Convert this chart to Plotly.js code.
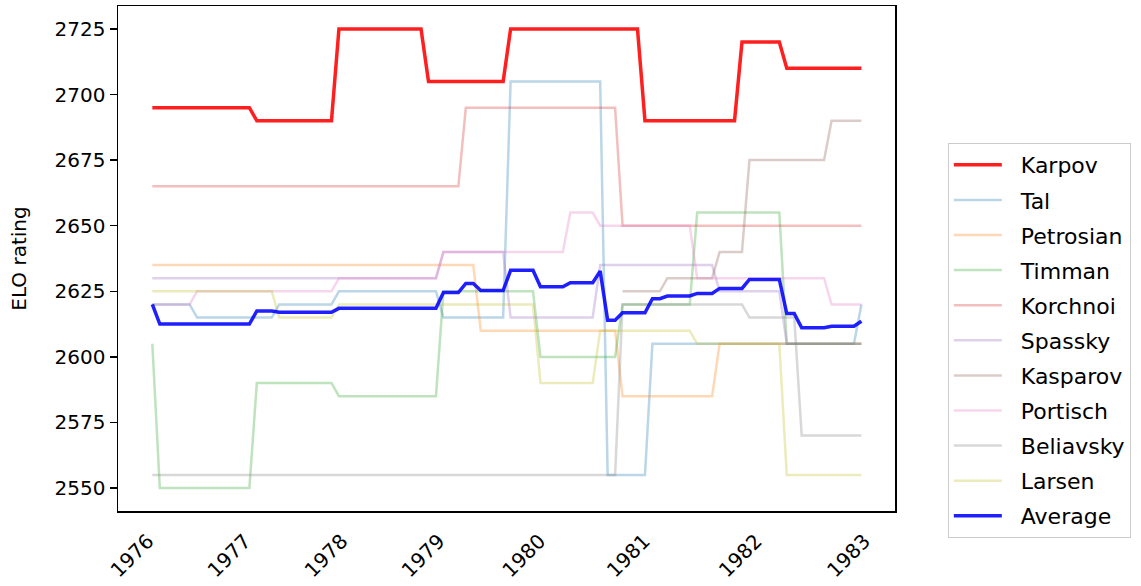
<!DOCTYPE html>
<html>
<head>
<meta charset="utf-8">
<script src="https://cdn.plot.ly/plotly-3.0.1.min.js"></script>
<style>html,body{margin:0;padding:0;background:#fff;}#chart{width:1141px;height:586px;}</style>
</head>
<body>
<div id="chart"></div>
<script>
// Rating list sequence (one value per list, 96 lists from 1976 to 1983)
const yearLabels = ['1976','1977','1978','1979','1980','1981','1982','1983'];
const yearTickPos = [-0.6, 12.4, 25.4, 38.4, 51.9, 65.9, 80.9, 95.4];

const karpov = [
2695,2695,2695,2695,2695,2695,2695,2695,2695,2695,2695,2695,2695,2695,
2690,2690,2690,2690,2690,2690,2690,2690,2690,2690,2690,
2725,2725,2725,2725,2725,2725,2725,2725,2725,2725,2725,2725,
2705,2705,2705,2705,2705,2705,2705,2705,2705,2705,2705,
2725,2725,2725,2725,2725,2725,2725,2725,2725,2725,2725,2725,2725,2725,2725,2725,2725,2725,
2690,2690,2690,2690,2690,2690,2690,2690,2690,2690,2690,2690,2690,
2720,2720,2720,2720,2720,2720,
2710,2710,2710,2710,2710,2710,2710,2710,2710,2710,2710];

const tal = [
2620,2620,2620,2620,2620,2620,
2615,2615,2615,2615,2615,2615,2615,2615,2615,2615,2615,
2620,2620,2620,2620,2620,2620,2620,2620,
2625,2625,2625,2625,2625,2625,2625,2625,2625,2625,2625,2625,2625,2625,
2615,2615,2615,2615,2615,2615,2615,2615,2615,
2705,2705,2705,2705,2705,2705,2705,2705,2705,2705,2705,2705,2705,
2555,2555,2555,2555,2555,2555,
2605,2605,2605,2605,2605,2605,2605,2605,2605,2605,2605,2605,2605,2605,2605,2605,2605,2605,2605,2605,2605,2605,2605,2605,2605,2605,2605,2605,
2620];

const petrosian = [
2635,2635,2635,2635,2635,2635,2635,2635,2635,2635,2635,2635,2635,2635,2635,2635,2635,2635,2635,2635,2635,2635,
2635,2635,2635,2635,2635,2635,2635,2635,2635,2635,2635,2635,2635,2635,2635,2635,2635,2635,2635,2635,2635,2635,
2610,2610,2610,2610,2610,2610,2610,2610,2610,2610,2610,2610,2610,2610,2610,2610,2610,2610,2610,
2585,2585,2585,2585,2585,2585,2585,2585,2585,2585,2585,2585,2585,
2605,2605,2605,2605,2605,2605,2605,2605,2605,2605,2605,2605,2605,2605,2605,2605,2605,2605,2605,2605];

const timman = [
2605,
2550,2550,2550,2550,2550,2550,2550,2550,2550,2550,2550,2550,2550,
2590,2590,2590,2590,2590,2590,2590,2590,2590,2590,2590,
2585,2585,2585,2585,2585,2585,2585,2585,2585,2585,2585,2585,2585,2585,
2625,2625,2625,2625,2625,2625,2625,2625,2625,2625,2625,2625,2625,
2600,2600,2600,2600,2600,2600,2600,2600,2600,2600,2600,
2620,2620,2620,2620,2620,2620,2620,2620,2620,2620,
2655,2655,2655,2655,2655,2655,2655,2655,2655,2655,2655,2655,
2605,2605,2605,2605,2605,2605,2605,2605,2605,2605,2605];

const korchnoi = [
2665,2665,2665,2665,2665,2665,2665,2665,2665,2665,2665,2665,2665,2665,2665,2665,2665,2665,2665,2665,2665,
2665,2665,2665,2665,2665,2665,2665,2665,2665,2665,2665,2665,2665,2665,2665,2665,2665,2665,2665,2665,2665,
2695,2695,2695,2695,2695,2695,2695,2695,2695,2695,2695,2695,2695,2695,2695,2695,2695,2695,2695,2695,2695,
2650,2650,2650,2650,2650,2650,2650,2650,2650,2650,2650,2650,2650,2650,2650,2650,2650,
2650,2650,2650,2650,2650,2650,2650,2650,2650,2650,2650,2650,2650,2650,2650,2650];

const spassky = [
2630,2630,2630,2630,2630,2630,2630,2630,2630,2630,2630,2630,2630,2630,2630,2630,2630,2630,2630,2630,
2630,2630,2630,2630,2630,2630,2630,2630,2630,2630,2630,2630,2630,2630,2630,2630,2630,2630,2630,
2640,2640,2640,2640,2640,2640,2640,2640,2640,
2615,2615,2615,2615,2615,2615,2615,2615,2615,2615,2615,2615,
2635,2635,2635,2635,2635,2635,2635,2635,2635,2635,2635,2635,2635,2635,2635,2635,
2625,2625,2625,2625,2625,2625,2625,2625,2625,
2605,2605,2605,2605,2605,2605,2605,2605,2605,2605,2605];

const kasparov = [
null,null,null,null,null,null,null,null,null,null,null,null,null,null,null,null,null,null,null,null,null,
null,null,null,null,null,null,null,null,null,null,null,null,null,null,null,null,null,null,null,null,null,
null,null,null,null,null,null,null,null,null,null,null,null,null,null,null,null,null,null,null,null,null,
2625,2625,2625,2625,2625,2625,
2630,2630,2630,2630,2630,2630,2630,
2640,2640,2640,2640,
2675,2675,2675,2675,2675,2675,2675,2675,2675,2675,2675,
2690,2690,2690,2690,2690];

const portisch = [
2620,2620,2620,2620,2620,2620,
2625,2625,2625,2625,2625,2625,2625,2625,2625,2625,2625,2625,2625,2625,2625,2625,2625,2625,2625,
2630,2630,2630,2630,2630,2630,2630,2630,2630,2630,2630,2630,2630,2630,
2640,2640,2640,2640,2640,2640,2640,2640,2640,2640,2640,2640,2640,2640,2640,2640,2640,
2655,2655,2655,2655,
2650,2650,2650,2650,2650,2650,2650,2650,2650,2650,2650,2650,2650,
2630,2630,2630,2630,2630,2630,2630,2630,2630,2630,2630,2630,2630,2630,2630,2630,2630,2630,
2620,2620,2620,2620,2620];

const beliavsky = [
2555,2555,2555,2555,2555,2555,2555,2555,2555,2555,2555,2555,2555,2555,2555,2555,2555,2555,2555,2555,2555,
2555,2555,2555,2555,2555,2555,2555,2555,2555,2555,2555,2555,2555,2555,2555,2555,2555,2555,2555,2555,2555,
2555,2555,2555,2555,2555,2555,2555,2555,2555,2555,2555,2555,2555,2555,2555,2555,2555,2555,2555,2555,2555,
2620,2620,2620,2620,2620,2620,2620,2620,2620,2620,2620,2620,2620,2620,2620,2620,2620,
2615,2615,2615,2615,2615,2615,2615,
2570,2570,2570,2570,2570,2570,2570,2570,2570];

const larsen = [
2625,2625,2625,2625,2625,2625,2625,2625,2625,2625,2625,2625,2625,2625,2625,2625,2625,
2615,2615,2615,2615,2615,2615,2615,2615,
2620,2620,2620,2620,2620,2620,2620,2620,2620,2620,2620,2620,2620,2620,
2620,2620,2620,2620,2620,2620,2620,2620,2620,2620,2620,2620,2620,
2590,2590,2590,2590,2590,2590,2590,2590,
2610,2610,2610,2610,2610,2610,2610,2610,2610,2610,2610,2610,2610,
2605,2605,2605,2605,2605,2605,2605,2605,2605,2605,2605,2605,
2555,2555,2555,2555,2555,2555,2555,2555,2555,2555,2555];

const average = [
2620,
2612.5,2612.5,2612.5,2612.5,2612.5,2612.5,2612.5,2612.5,2612.5,2612.5,2612.5,2612.5,2612.5,
2617.5,2617.5,2617.5,
2617,2617,2617,2617,2617,2617,2617,2617,
2618.5,2618.5,2618.5,2618.5,2618.5,2618.5,2618.5,2618.5,2618.5,2618.5,2618.5,2618.5,2618.5,2618.5,
2624.5,2624.5,2624.5,
2628,2628,
2625.3,2625.3,2625.3,2625.3,
2633,2633,2633,2633,
2626.7,2626.7,2626.7,2626.7,
2628.3,2628.3,2628.3,2628.3,
2632.7,
2614,2614,
2616.8,2616.8,2616.8,2616.8,
2622.2,2622.2,
2623.2,2623.2,2623.2,2623.2,
2624.2,2624.2,2624.2,
2626.1,2626.1,2626.1,2626.1,
2629.5,2629.5,2629.5,2629.5,2629.5,
2616.5,2616.5,
2611.1,2611.1,2611.1,2611.1,
2611.7,2611.7,2611.7,2611.7,
2613.6];

const seriesNames = ['Karpov','Tal','Petrosian','Timman','Korchnoi','Spassky','Kasparov','Portisch','Beliavsky','Larsen','Average'];
const seriesData = [karpov, tal, petrosian, timman, korchnoi, spassky, kasparov, portisch, beliavsky, larsen, average];
const seriesColors = ['rgba(255,0,0,0.88)','rgba(31,119,180,0.3)','rgba(255,127,14,0.3)','rgba(44,160,44,0.3)',
  'rgba(214,39,40,0.3)','rgba(148,103,189,0.3)','rgba(140,86,75,0.3)','rgba(227,119,194,0.3)',
  'rgba(127,127,127,0.3)','rgba(188,189,34,0.3)','rgba(0,0,255,0.88)'];
const seriesWidths = [3.5,2.5,2.5,2.5,2.5,2.5,2.5,2.5,2.5,2.5,3.5];

seriesData.forEach((d,i)=>{ if(d.length!==96) throw new Error(seriesNames[i]+' has '+d.length); });

const traces = seriesNames.map((name,i)=>({
  type:'scatter', mode:'lines', name:name, y:seriesData[i], x0:0, dx:1,
  line:{color:seriesColors[i], width:seriesWidths[i]},
  legendgroup:'g'+i, connectgaps:false
}));

const font = 'DejaVu Sans, sans-serif';
const layout = {
  width:1141, height:586,
  margin:{l:118, r:246, t:6, b:75},
  paper_bgcolor:'#ffffff', plot_bgcolor:'#ffffff',
  showlegend:true,
  xaxis:{
    range:[-4.6, 99.5], tickmode:'array', tickvals:yearTickPos, ticktext:yearLabels,
    tickangle:-45, ticks:'outside', ticklen:9, tickcolor:'rgba(0,0,0,0)', showgrid:false, zeroline:false,
    showline:true, mirror:true, linecolor:'#000', linewidth:1.5,
    tickfont:{family:font, size:20, color:'#000'}
  },
  yaxis:{
    range:[2541.25, 2733.75], tickmode:'array', tickvals:[2550,2575,2600,2625,2650,2675,2700,2725],
    ticks:'outside', ticklen:7, tickwidth:1.5, tickcolor:'#000',
    showgrid:false, zeroline:false, showline:true, mirror:true, linecolor:'#000', linewidth:1.5,
    tickfont:{family:font, size:20, color:'#000'},
    title:{text:'ELO rating', font:{family:font, size:20, color:'#000'}, standoff:22}
  },
  legend:{
    x:1.068, xanchor:'left', y:0.7287, yanchor:'top',
    bgcolor:'#ffffff', bordercolor:'#cccccc', borderwidth:1, itemwidth:62,
    font:{family:font, size:22, color:'#000'}, tracegroupgap:3.5
  }
};

Plotly.newPlot('chart', traces, layout, {staticPlot:true, displayModeBar:false}).then(gd=>{
  gd.querySelectorAll('.legend .legendlines path').forEach(p=>p.setAttribute('d','M5,0h48'));
});
</script>
</body>
</html>
